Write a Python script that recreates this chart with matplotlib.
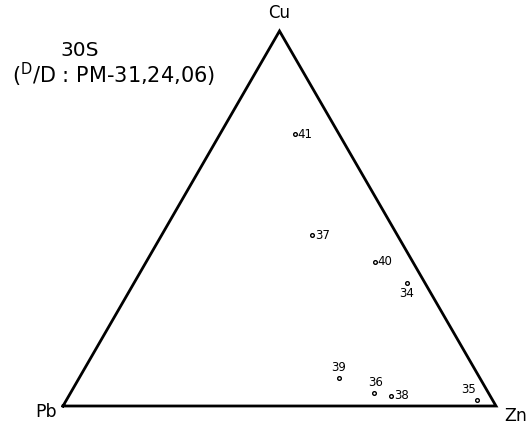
import numpy as np
import matplotlib.pyplot as plt

# Composición Cu-Pb-Zn (fracciones) de las muestras
muestras = ['41', '37', '40', '34', '39', '36', '38', '35']
cu = np.array([0.725, 0.455, 0.385, 0.329, 0.075, 0.035, 0.027, 0.016])
zn = np.array([0.173, 0.348, 0.528, 0.630, 0.600, 0.701, 0.744, 0.948])
pb = 1 - cu - zn

# Posición de cada etiqueta respecto a su punto (offset en puntos, alineación)
etiquetas = {
    '41': ((2, 0), 'left', 'center'),
    '37': ((2, 0), 'left', 'center'),
    '40': ((2, 0), 'left', 'center'),
    '34': ((0, -3), 'center', 'top'),
    '39': ((0, 3), 'center', 'bottom'),
    '36': ((1, 3), 'center', 'bottom'),
    '38': ((2, 0), 'left', 'center'),
    '35': ((-1, 3), 'right', 'bottom'),
}


def ternaria(cu, zn):
    # Pb abajo a la izquierda, Zn abajo a la derecha, Cu arriba
    x = zn + cu / 2
    y = cu * np.sqrt(3) / 2
    return x, y


fig = plt.figure(figsize=(5.27, 4.30), dpi=100)
ax = fig.add_axes([0, 0, 1, 1])
ax.set_xlim(-63 / 433, 464 / 433)
ax.set_ylim(-24 / 433, 406 / 433)
ax.axis('off')

# Triángulo
vx, vy = ternaria(np.array([0, 0, 1, 0]), np.array([0, 1, 0, 0]))
ax.plot(vx, vy, color='black', lw=2, solid_joinstyle='miter')

# Puntos
x, y = ternaria(cu, zn)
ax.scatter(x, y, s=7, facecolors='white', edgecolors='black', linewidths=1, zorder=3)
for nombre, xi, yi in zip(muestras, x, y):
    off, ha, va = etiquetas[nombre]
    ax.annotate(nombre, (xi, yi), xytext=off, textcoords='offset points',
                ha=ha, va=va, fontsize=8.5)

# Vértices
ax.text(0.5, np.sqrt(3) / 2 + 0.02, 'Cu', ha='center', va='bottom', fontsize=12)
ax.text(-0.015, -0.015, 'Pb', ha='right', va='center', fontsize=12.5)
ax.text(1.018, -0.023, 'Zn', ha='left', va='center', fontsize=12.5)

# Títulos
fig.text(80 / 527, 1 - 51 / 430, '30S', ha='center', va='center', fontsize=14.5)
fig.text(12 / 527, 1 - 75 / 430, r'($^{\mathrm{D}}$/D : PM-31,24,06)', ha='left', va='center',
         fontsize=15)

fig.savefig('out.png', dpi=100)
